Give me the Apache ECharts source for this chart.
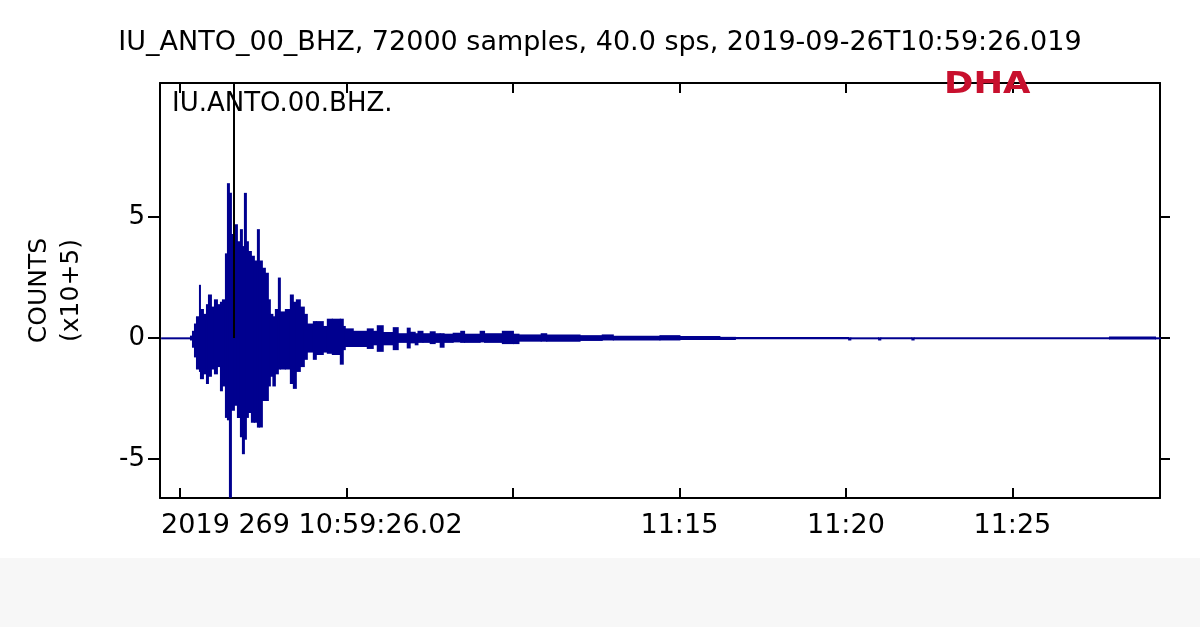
<!DOCTYPE html>
<html>
<head>
<meta charset="utf-8">
<script src="https://cdn.jsdelivr.net/npm/echarts@6/dist/echarts.min.js"></script>
<style>
  html, body { margin: 0; padding: 0; background: #fff; }
  #main { width: 1200px; height: 627px; }
</style>
</head>
<body>
<div id="main"></div>
<script>
// trace: IU.ANTO.00.BHZ, times in seconds after 11:00:00 UTC, amplitudes in counts x10^5
// each bin is drawn as a min/max block, like the pixel envelope of the original plot
var binStart = [
  -34, 18, 21.6, 25.2, 28.8, 34.2, 36, 41.4, 46.8, 50.4, 55.8, 61.2, 66.6, 72,
  75.6, 81, 84.6, 88.2, 91.8, 97.2, 102.6, 108, 111.6, 115.2, 118.8, 122.4, 127.8,
  133.2, 138.6, 142.2, 147.6, 153, 158.4, 162, 166.5, 171, 176.4, 180, 189, 198,
  203.4, 208.8, 216, 223.2, 228.6, 239.4, 244.8, 257.4, 264.6, 273.6, 288, 293.4,
  297, 311.4, 336.6, 347.4, 354.6, 365.4, 383.4, 392.4, 408.6, 414, 423, 428, 437,
  450, 459, 468, 475, 491.4, 505, 512, 540, 548, 580, 600, 610, 650, 660, 720, 760,
  780, 864, 900, 972, 1000, 1204, 1208, 1258, 1262, 1318, 1322, 1674, 1757
];
var binMax = [
  0.03, 0.1, 0.3, 0.6, 0.9, 2.2, 1.2, 1.0, 1.4, 1.8, 1.3, 1.6, 1.4, 1.5,
  1.6, 3.5, 6.4, 6.0, 4.3, 4.7, 4.0, 4.5, 3.8, 6.0, 4.0, 3.6, 3.4,
  3.2, 4.5, 3.2, 2.9, 2.7, 1.6, 1.0, 0.9, 1.2, 2.5, 1.1, 1.2, 1.8,
  1.5, 1.6, 1.3, 1.0, 0.6, 0.7, 0.7, 0.5, 0.8, 0.8, 0.8, 0.5,
  0.4, 0.3, 0.4, 0.3, 0.53, 0.25, 0.45, 0.2, 0.43, 0.26, 0.2, 0.3, 0.2,
  0.28, 0.2, 0.2, 0.18, 0.22, 0.3, 0.18, 0.3, 0.2, 0.3, 0.18, 0.15, 0.2, 0.15, 0.12, 0.15,
  0.1, 0.12, 0.08, 0.05, 0.04, 0.03, 0.03, 0.03, 0.03, 0.03, 0.03, 0.06, 0.03
];
var binMin = [
  -0.03, -0.1, -0.4, -0.8, -1.3, -1.4, -1.7, -1.5, -1.9, -1.6, -1.3, -1.5, -1.2, -2.2,
  -2.0, -3.3, -3.4, -6.6, -3.0, -2.8, -3.3, -4.1, -4.8, -4.2, -3.3, -3.1, -3.5,
  -3.5, -3.7, -3.7, -2.6, -2.6, -2.0, -1.6, -2.0, -1.5, -1.3, -1.3, -1.3, -1.9,
  -2.1, -1.4, -1.2, -0.9, -0.6, -0.9, -0.7, -0.6, -0.65, -0.7, -1.1, -0.5,
  -0.37, -0.37, -0.45, -0.3, -0.57, -0.3, -0.5, -0.2, -0.43, -0.22, -0.3, -0.2, -0.2,
  -0.25, -0.2, -0.4, -0.2, -0.18, -0.2, -0.2, -0.18, -0.2, -0.25, -0.25, -0.15, -0.15, -0.15, -0.12, -0.1,
  -0.1, -0.1, -0.08, -0.08, -0.05, -0.1, -0.03, -0.1, -0.03, -0.1, -0.03, -0.06, -0.03
];
var traceEnd = 1766;

var pickTime = 97.5;

var tickSeconds = [0, 300, 600, 900, 1200, 1500];
var labelSeconds = [900, 1200, 1500];
var labelText = ['11:15', '11:20', '11:25'];
var startLabel = '2019 269 10:59:26.02';

var yTicks = [-5, 0, 5];

var xMin = -36, xMax = 1766;
var yMin = -6.61, yMax = 10.54;

var FONT = 'DejaVu Sans';
var WAVE = '#00008f';

// [start, end, min, max] per bin
var bins = binStart.map(function (t, i) {
    var end = i + 1 < binStart.length ? binStart[i + 1] : traceEnd;
    return [t, end, binMin[i], binMax[i]];
});

var myChart = echarts.init(document.getElementById('main'));

var frame = { color: '#000', width: 2 };

var option = {
    backgroundColor: '#fff',
    animation: false,
    title: {
        text: 'IU_ANTO_00_BHZ, 72000 samples, 40.0 sps, 2019-09-26T10:59:26.019',
        left: 'center',
        top: 24,
        textStyle: { fontFamily: FONT, fontSize: 27, fontWeight: 'normal', color: '#000' }
    },
    grid: { left: 160, right: 40, top: 83, bottom: 129 },
    xAxis: [{
        type: 'value', position: 'bottom', min: xMin, max: xMax,
        axisLine: { onZero: false, lineStyle: frame },
        axisTick: { inside: true, length: 10, customValues: tickSeconds, lineStyle: frame },
        axisLabel: {
            customValues: labelSeconds, margin: 14,
            fontFamily: FONT, fontSize: 27, color: '#000',
            formatter: function (v) { return labelText[labelSeconds.indexOf(v)]; }
        },
        splitLine: { show: false }
    }, {
        type: 'value', position: 'bottom', min: xMin, max: xMax,
        axisLine: { show: false, onZero: false }, axisTick: { show: false },
        axisLabel: {
            customValues: [-34], margin: 14, align: 'left',
            fontFamily: FONT, fontSize: 27, color: '#000',
            formatter: function () { return startLabel; }
        },
        splitLine: { show: false }
    }, {
        type: 'value', position: 'top', min: xMin, max: xMax,
        axisLine: { onZero: false, lineStyle: frame },
        axisTick: { inside: true, length: 10, customValues: tickSeconds, lineStyle: frame },
        axisLabel: { show: false },
        splitLine: { show: false }
    }],
    yAxis: [{
        type: 'value', position: 'left', min: yMin, max: yMax,
        name: 'COUNTS\n(x10+5)', nameLocation: 'middle', nameGap: 73,
        nameTextStyle: { fontFamily: FONT, fontSize: 25, color: '#000', lineHeight: 32 },
        axisLine: { show: true, onZero: false, lineStyle: frame },
        axisTick: { show: true, length: 12, customValues: yTicks, lineStyle: frame },
        axisLabel: { customValues: yTicks, margin: 15, fontFamily: FONT, fontSize: 26, color: '#000' },
        splitLine: { show: false }
    }, {
        type: 'value', position: 'right', min: yMin, max: yMax,
        axisLine: { show: true, onZero: false, lineStyle: frame },
        axisTick: { show: true, length: 10, customValues: yTicks, lineStyle: frame },
        axisLabel: { show: false },
        splitLine: { show: false }
    }],
    graphic: [
        { type: 'rect', left: 0, top: 558, shape: { width: 1200, height: 69 }, style: { fill: '#f7f7f7' }, silent: true },
        { type: 'text', left: 172, top: 91, z: 10,
          style: { text: 'IU.ANTO.00.BHZ.', fontFamily: FONT, fontSize: 26, fill: '#000' } },
        { type: 'text', x: 944, y: 70, scaleX: 1.18, z: 10,
          style: { text: 'DHA', fontFamily: FONT, fontSize: 30, fontWeight: 'bold', fill: '#c8102e' } }
    ],
    series: [{
        type: 'line', data: [], z: 1, silent: true,
        markLine: {
            symbol: 'none', silent: true, label: { show: false },
            lineStyle: { color: '#000', width: 2, type: 'solid' },
            data: [[{ coord: [pickTime, yMax] }, { coord: [pickTime, 0] }]]
        }
    }, {
        type: 'custom', z: 2, silent: true,
        data: bins,
        encode: { x: [0, 1], y: [2, 3] },
        renderItem: function (params, api) {
            var p1 = api.coord([api.value(0), api.value(3)]);
            var p2 = api.coord([api.value(1), api.value(2)]);
            var h = Math.max(p2[1] - p1[1], 2);
            return {
                type: 'rect',
                shape: { x: p1[0], y: p1[1], width: p2[0] - p1[0] + 1, height: h },
                style: { fill: WAVE }
            };
        }
    }]
};

myChart.setOption(option);
</script>
</body>
</html>
